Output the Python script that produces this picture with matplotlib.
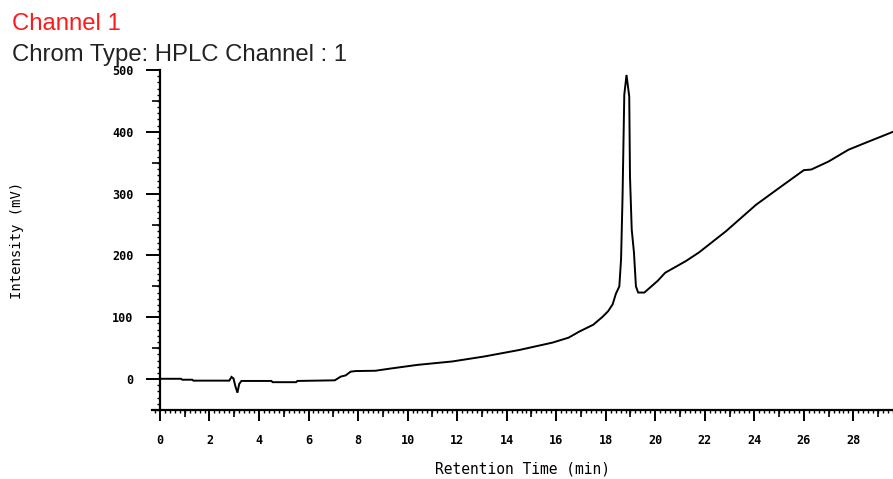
import matplotlib
matplotlib.use("Agg")
import matplotlib.pyplot as plt
from matplotlib.ticker import MultipleLocator
from matplotlib.markers import TICKLEFT, TICKDOWN

# Chromatogram trace: retention time (min) and detector intensity (mV)
time_min = [0.0, 0.85, 0.9, 1.3, 1.35, 2.8, 2.89, 2.97, 3.05, 3.13, 3.2, 3.29,
            4.5, 4.55, 5.5, 5.55, 7.06, 7.3, 7.5, 7.7, 7.9, 8.7, 9.3, 10.4,
            11.8, 13.1, 14.5, 15.85, 16.5, 16.94, 17.5, 17.88, 18.1, 18.28, 18.41,
            18.55, 18.62, 18.68, 18.75, 18.84, 18.95, 18.98, 19.05, 19.14, 19.22,
            19.31, 19.56, 20.1, 20.4, 21.24, 21.77, 22.85, 24.07, 25.1, 26.0,
            26.3, 27.0, 27.8, 28.6, 29.6]
intensity_mv = [0.5, 0.5, -1.0, -1.0, -2.5, -2.5, 3.5, 1.0, -12.0, -22.0, -8.0, -3.0,
                -3.0, -5.0, -5.0, -3.0, -2.0, 4.0, 6.0, 12.0, 13.0, 13.5, 17.0, 23.0,
                28.5, 36.6, 47.0, 59.0, 67.0, 77.0, 88.0, 101.0, 110.0, 121.0, 138.0,
                150.0, 194.0, 296.0, 460.0, 492.0, 457.0, 328.0, 242.0, 205.0, 150.0,
                140.0, 140.0, 159.0, 172.0, 191.0, 205.0, 239.0, 282.0, 312.0, 338.0,
                339.0, 352.0, 371.0, 384.0, 400.0]

x_major = list(range(0, 30, 2))
x_medium = list(range(1, 30, 2))
y_major = [0, 100, 200, 300, 400, 500]
y_medium = [50, 150, 250, 350, 450]

fig = plt.figure(figsize=(8.93, 4.79), dpi=100, facecolor="white")
ax = fig.add_axes([152 / 893, 1 - 410 / 479, 1 - 152 / 893, 340 / 479])

ax.plot(time_min, intensity_mv, color="black", lw=1.4, solid_joinstyle="miter")

ax.set_xlim(-0.32, 29.6)
ax.set_ylim(-50, 500)

for side in ("top", "right"):
    ax.spines[side].set_visible(False)
ax.spines["left"].set_position(("data", 0))
ax.spines["left"].set_linewidth(1.6)
ax.spines["bottom"].set_linewidth(1.6)

ax.set_xticks(x_major)
ax.set_xticklabels([str(v) for v in x_major])
ax.xaxis.set_minor_locator(MultipleLocator(0.2))
ax.set_yticks(y_major)
ax.set_yticklabels([str(v) for v in y_major])
ax.yaxis.set_minor_locator(MultipleLocator(10))

for lab in ax.get_xticklabels() + ax.get_yticklabels():
    lab.set_fontfamily("DejaVu Sans Mono")
    lab.set_fontweight("bold")
    lab.set_fontsize(8.5)

ax.tick_params(axis="x", which="major", direction="out", length=8, width=1.4, pad=9)
ax.tick_params(axis="x", which="minor", direction="out", length=2.5, width=1.0)
ax.tick_params(axis="y", which="major", direction="out", length=10, width=1.4, pad=9)
ax.tick_params(axis="y", which="minor", direction="out", length=2.5, width=1.0)

# medium ticks at odd minutes and at the half-hundreds of mV
ax.plot(x_medium, [-50] * len(x_medium), linestyle="none", marker=TICKDOWN,
        markersize=5, markeredgewidth=1.2, color="black", clip_on=False)
ax.plot([0] * len(y_medium), y_medium, linestyle="none", marker=TICKLEFT,
        markersize=6, markeredgewidth=1.2, color="black", clip_on=False)

ax.set_xlabel("Retention Time (min)", family="DejaVu Sans Mono", size=10.5)
ax.xaxis.set_label_coords(0.5, (410 - 469) / 340)
ax.xaxis.label.set_verticalalignment("center")
ax.yaxis.set_label_coords((17 - 152) / (893 - 152), 0.5)
ax.set_ylabel("Intensity (mV)", family="DejaVu Sans Mono", size=10)
ax.yaxis.label.set_verticalalignment("center")

fig.text(12 / 893, 1 - 24 / 479, "Channel 1", color="#ff1a1a",
         family="Liberation Sans", size=17.2, va="center", ha="left")
fig.text(12 / 893, 1 - 55 / 479, "Chrom Type: HPLC Channel : 1", color="#222222",
         family="Liberation Sans", size=17.2, va="center", ha="left")

fig.savefig("out.png", dpi=100, facecolor="white")
